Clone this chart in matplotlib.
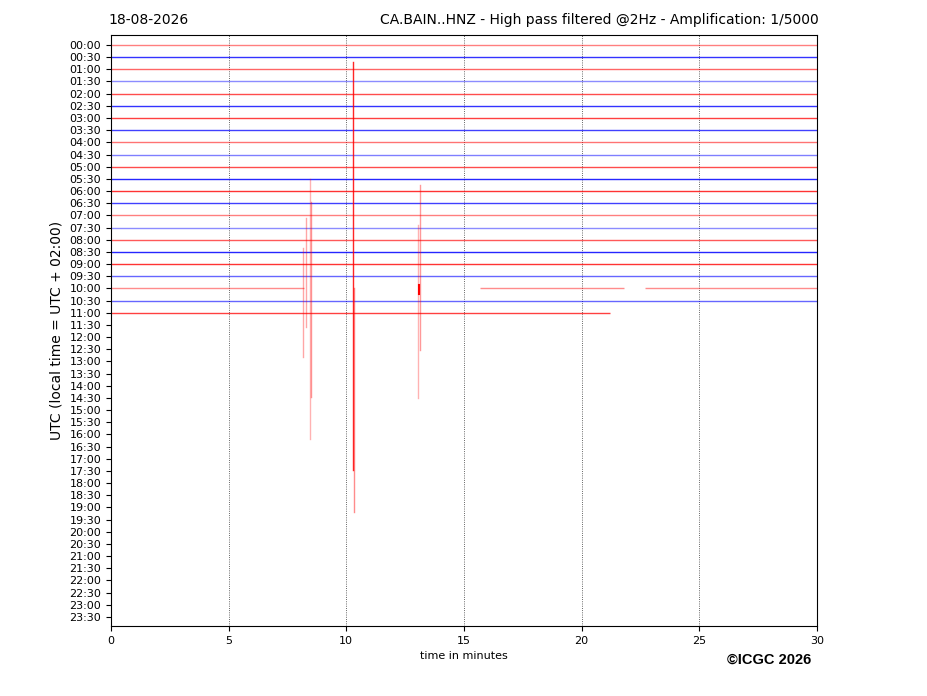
import matplotlib
matplotlib.use("Agg")
import matplotlib.pyplot as plt

# Helicorder rows: one trace every 30 minutes, 00:00 .. 23:30
row_labels = ["%02d:%02d" % (h, m) for h in range(24) for m in (0, 30)]
row_colors = ["red", "blue"] * 24

# Rows that hold data, with the minute span of each recorded segment
trace_segments = {
    "00:00": [(0, 30)], "00:30": [(0, 30)], "01:00": [(0, 30)], "01:30": [(0, 30)],
    "02:00": [(0, 30)], "02:30": [(0, 30)], "03:00": [(0, 30)], "03:30": [(0, 30)],
    "04:00": [(0, 30)], "04:30": [(0, 30)], "05:00": [(0, 30)], "05:30": [(0, 30)],
    "06:00": [(0, 30)], "06:30": [(0, 30)], "07:00": [(0, 30)], "07:30": [(0, 30)],
    "08:00": [(0, 30)], "08:30": [(0, 30)], "09:00": [(0, 30)], "09:30": [(0, 30)],
    "10:00": [(0, 8.2), (15.7, 21.8), (22.7, 30)],
    "10:30": [(0, 30)], "11:00": [(0, 21.2)],
}
trace_alpha = {
    "00:00": 0.5, "00:30": 0.8, "01:00": 0.6, "01:30": 0.45, "02:00": 0.7,
    "02:30": 0.8, "03:00": 0.75, "03:30": 0.75, "04:00": 0.55, "04:30": 0.5,
    "05:00": 0.7, "05:30": 0.85, "06:00": 0.8, "06:30": 0.75, "07:00": 0.5,
    "07:30": 0.45, "08:00": 0.65, "08:30": 0.85, "09:00": 0.8, "09:30": 0.6,
    "10:00": 0.45, "10:30": 0.6, "11:00": 0.75,
}

# Large excursions of the 10:00 trace (minute, peak up, peak down) in row units
spike_row = "10:00"
spike_minutes = [8.16, 8.29, 8.45, 8.52, 10.27, 10.32, 13.05, 13.12]
spike_up = [3.3, 5.8, 9.0, 7.1, 18.6, 0.0, 5.2, 8.5]
spike_down = [-5.6, -3.2, -12.4, -8.9, -14.9, -18.4, -9.0, -5.1]
spike_alpha = [0.35, 0.35, 0.3, 0.4, 0.85, 0.45, 0.3, 0.4]

fig = plt.figure(figsize=(9.27, 6.96), dpi=100)
ax = fig.add_axes([0.1197, 0.1006, 0.7616, 0.8491])

for i, lab in enumerate(row_labels):
    for x0, x1 in trace_segments.get(lab, []):
        ax.plot([x0, x1], [-i, -i], color=row_colors[i],
                alpha=trace_alpha[lab], linewidth=1.0, solid_capstyle="butt")

base = -row_labels.index(spike_row)
for m, up, dn, a in zip(spike_minutes, spike_up, spike_down, spike_alpha):
    ax.plot([m, m], [base + dn, base + up], color="red", alpha=a, linewidth=1.0)
# dense burst on the 10:00 trace at ~13.1 min
ax.plot([13.1, 13.1], [base - 0.5, base + 0.3], color="red", linewidth=1.5)

ax.set_xlim(0, 30)
ax.set_ylim(-47.74, 0.82)
ax.set_yticks([-i for i in range(len(row_labels))])
ax.set_yticklabels(row_labels, fontsize=8)
ax.set_xticks([0, 5, 10, 15, 20, 25, 30])
ax.tick_params(axis="x", labelsize=8)
ax.grid(axis="x", color="k", linestyle=":", linewidth=0.6, alpha=0.8)
ax.set_xlabel("time in minutes", fontsize=8)
ax.set_ylabel("UTC (local time = UTC + 02:00)", fontsize=10)

fig.text(0.1165, 0.965, "18-08-2026", fontsize=10, ha="left", va="baseline")
fig.text(0.8835, 0.965, "CA.BAIN..HNZ - High pass filtered @2Hz - Amplification: 1/5000",
         fontsize=10, ha="right", va="baseline")
fig.text(0.875, 0.046, "\u00a9ICGC 2026", fontsize=10.5, fontweight="bold",
         family="Liberation Sans", ha="right", va="baseline")

fig.savefig("out.png", dpi=100)
